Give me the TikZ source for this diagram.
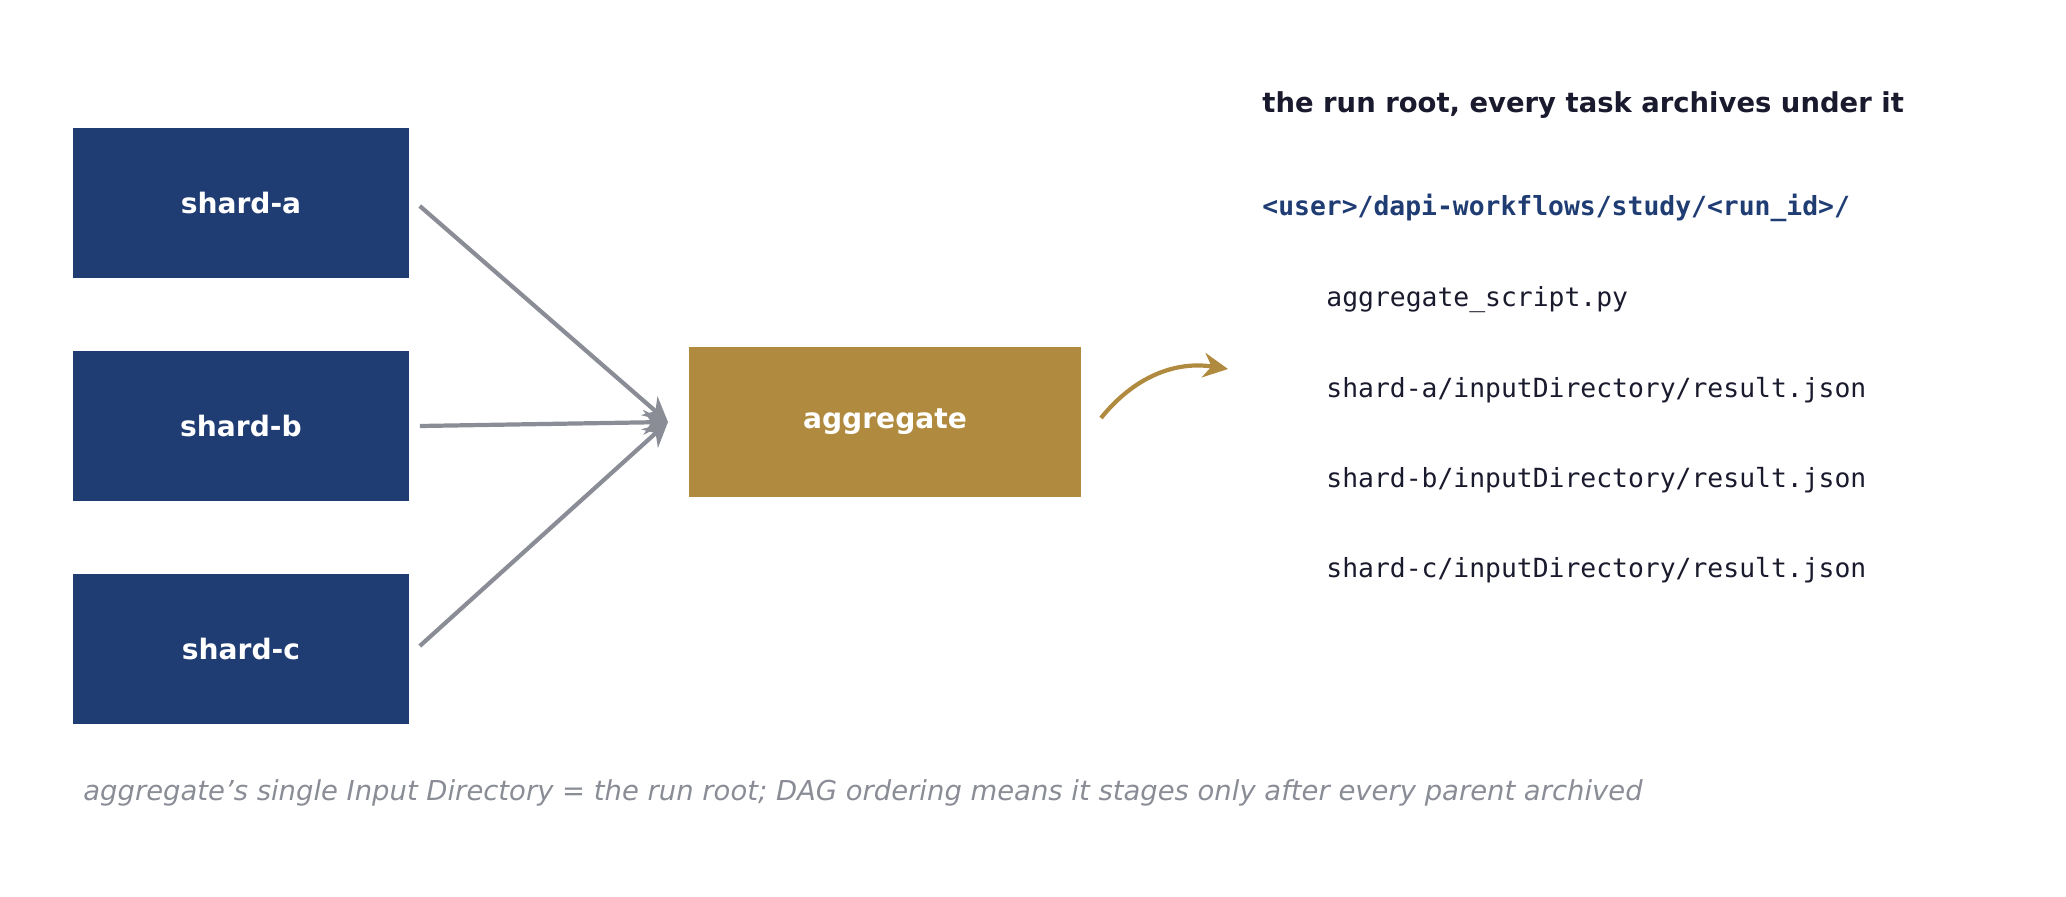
\documentclass[tikz,border=0pt]{standalone}
\usepackage{fontspec}
\setmainfont{DejaVu Sans}
\setsansfont{DejaVu Sans}
\setmonofont{DejaVu Sans Mono}
\usetikzlibrary{arrows.meta,positioning,calc}
\definecolor{navy}{HTML}{1F3C73}
\definecolor{gold}{HTML}{B08A3E}
\definecolor{slate}{HTML}{8A8D96}
\definecolor{ink}{HTML}{1A1A2E}
\tikzset{
  shard/.style={fill=navy, text=white, minimum width=3.36cm, minimum height=1.5cm, font=\fontsize{8}{9}\selectfont\bfseries},
  feed/.style={draw=slate, line width=1.2pt, -{Stealth[length=7pt,width=7pt]}},
  entry/.style={anchor=west, text=ink, font=\fontsize{7.5}{9}\selectfont\ttfamily}
}
\begin{document}
\begin{tikzpicture}[x=0.01cm,y=-0.01cm]
\useasboundingbox (0,0) rectangle (2066,897);
\node[shard] (a) at (241,203) {shard-a};
\node[shard] (b) at (241,426) {shard-b};
\node[shard] (c) at (241,649) {shard-c};
\node[shard, fill=gold, minimum width=3.91cm] (agg) at (885,422) {aggregate};
\coordinate (in) at (668,422);
\draw[feed] (a.east)+(10,3) -- (in);
\draw[feed] (b.east)+(10,0) -- (in);
\draw[feed] (c.east)+(10,-3) -- (in);
\coordinate (out1) at (1101,418);
\coordinate (out2) at (1228,369);
\draw[draw=gold, line width=1.2pt, -{Stealth[length=7pt,width=7pt]}] (out1) to[bend left=30] (out2);
\node[anchor=west, text=ink, font=\fontsize{7.8}{9}\selectfont\bfseries] (title) at (1250,105) {the run root, every task archives under it};
\node[entry, text=navy, font=\fontsize{7.5}{9}\selectfont\ttfamily\bfseries] (root) at (1250,208) {<user>/dapi-workflows/study/<run\_id>/};
\foreach \f [count=\i] in {aggregate\_script.py, shard-a/inputDirectory/result.json, shard-b/inputDirectory/result.json, shard-c/inputDirectory/result.json}
  \node[entry] (f\i) at (1314,210+90*\i) {\f};
\node[anchor=west, text=slate, font=\fontsize{7.8}{9}\selectfont\itshape] (note) at (71,793) {aggregate's single Input Directory = the run root; DAG ordering means it stages only after every parent archived};
\end{tikzpicture}
\end{document}
